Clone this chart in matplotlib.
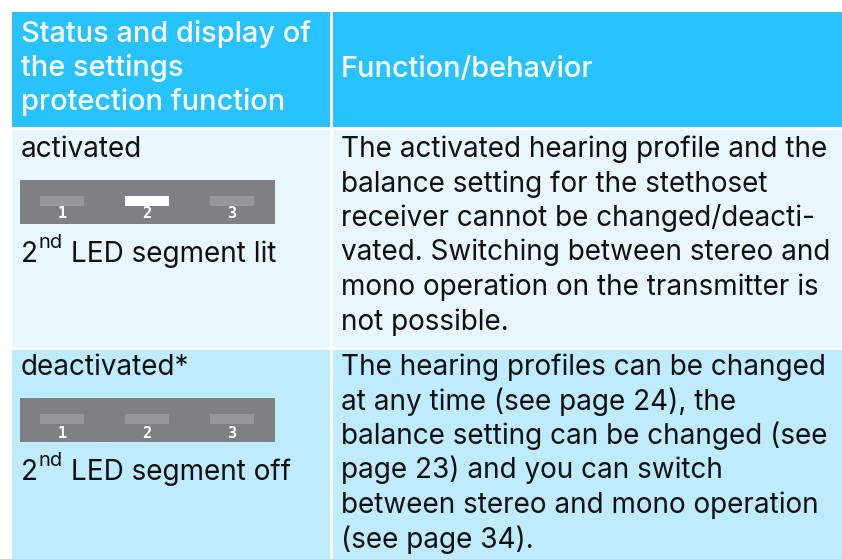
import matplotlib
matplotlib.use("Agg")
import matplotlib.pyplot as plt
from matplotlib.patches import Rectangle

# table content
header_left = ["Status and display of", "the settings", "protection function"]
header_right = "Function/behavior"
states = ["activated", "deactivated*"]
lit_segment = [2, None]  # which LED segment is lit in each row
led_labels = ["1", "2", "3"]
led_captions = [("2", "nd", " LED segment lit"), ("2", "nd", " LED segment off")]
functions = [
    ["The activated hearing profile and the",
     "balance setting for the stethoset",
     "receiver cannot be changed/deacti-",
     "vated. Switching between stereo and",
     "mono operation on the transmitter is",
     "not possible."],
    ["The hearing profiles can be changed",
     "at any time (see page 24), the",
     "balance setting can be changed (see",
     "page 23) and you can switch",
     "between stereo and mono operation",
     "(see page 34)."],
]

FONT = "Inter"
FS = 20.1
HFS = 20.8
HEAD_BG = "#28c3ff"
ROW_BG = ["#e8f7fe", "#beebfe"]
BAR = "#808084"
SEG_OFF = "#97979b"

fig = plt.figure(figsize=(8.42, 5.59), dpi=100)
ax = fig.add_axes([0, 0, 1, 1])
ax.set_xlim(0, 842)
ax.set_ylim(559, 0)
ax.axis("off")

# cells
col_x = [(12, 329.5), (332.7, 842)]
row_y = [(12, 127), (129.5, 346.7), (349.5, 559)]
for (x0, x1) in col_x:
    ax.add_patch(Rectangle((x0, row_y[0][0]), x1 - x0, row_y[0][1] - row_y[0][0], color=HEAD_BG, lw=0))
    for i in range(2):
        y0, y1 = row_y[i + 1]
        ax.add_patch(Rectangle((x0, y0), x1 - x0, y1 - y0, color=ROW_BG[i], lw=0))

# header
for i, line in enumerate(header_left):
    ax.text(21, 42 + i * 34, line, color="white", fontsize=HFS, family=FONT, weight="medium", va="baseline")
ax.text(341, 77, header_right, color="white", fontsize=HFS, family=FONT, weight="medium", va="baseline")

fig.canvas.draw()
renderer = fig.canvas.get_renderer()

for r in range(2):
    off = [0, 218][r]
    ax.text(21, 157 + off, states[r], color="#111111", fontsize=FS, family=FONT, va="baseline")
    # LED bar
    ax.add_patch(Rectangle((20, 180 + off), 255, 43.5, color=BAR, lw=0))
    for k, lab in enumerate(led_labels):
        sx = 40 + k * 85
        c = "white" if lit_segment[r] == k + 1 else SEG_OFF
        ax.add_patch(Rectangle((sx, 196 + off), 44, 10, color=c, lw=0))
        ax.text(sx + 22, 214 + off + (1.5 if r else 0), lab, color="white", fontsize=11,
                family="DejaVu Sans Mono", weight="bold", ha="center", va="center")
    # caption with superscript
    base, sup, rest = led_captions[r]
    y = 261.5 + off
    t1 = ax.text(21, y, base, color="#111111", fontsize=FS, family=FONT, va="baseline")
    w1 = t1.get_window_extent(renderer).width
    t2 = ax.text(21 + w1 + 1, y - 13, sup, color="#111111", fontsize=14.5, family=FONT, va="baseline")
    w2 = t2.get_window_extent(renderer).width
    ax.text(21 + w1 + 1 + w2, y, rest, color="#111111", fontsize=FS, family=FONT, va="baseline")
    # function text
    for i, line in enumerate(functions[r]):
        ax.text(341, 157 + off + i * 34.5, line, color="#111111", fontsize=FS, family=FONT, va="baseline")

fig.savefig("out.png", dpi=100)
